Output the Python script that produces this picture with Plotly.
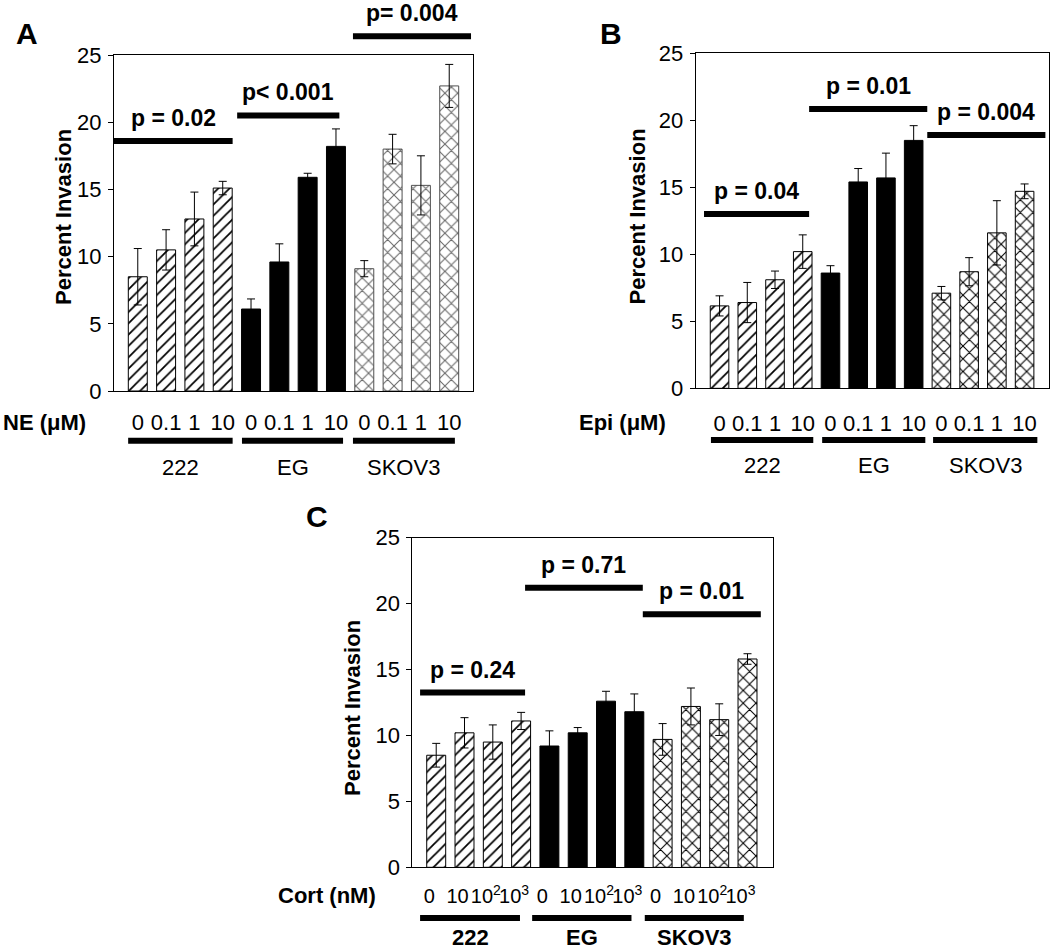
import plotly.graph_objects as go

W, H = 1050, 952
FONT = "Liberation Sans, Arial, sans-serif"

# ---------------- data ----------------
groups = ["222", "EG", "SKOV3"]

A_ticks = ["0", "0.1", "1", "10"]
A_222 = [8.5, 10.5, 12.8, 15.1]
A_222_err = [2.1, 1.5, 2.0, 0.5]
A_EG = [6.1, 9.6, 15.9, 18.2]
A_EG_err = [0.75, 1.35, 0.3, 1.3]
A_SKOV3 = [9.1, 18.0, 15.3, 22.7]
A_SKOV3_err = [0.6, 1.1, 2.2, 1.6]
A_pvals = ["p = 0.02", "p< 0.001", "p= 0.004"]

B_ticks = ["0", "0.1", "1", "10"]
B_222 = [6.15, 6.4, 8.1, 10.2]
B_222_err = [0.75, 1.5, 0.65, 1.25]
B_EG = [8.6, 15.4, 15.7, 18.5]
B_EG_err = [0.55, 1.0, 1.85, 1.1]
B_SKOV3 = [7.1, 8.7, 11.6, 14.7]
B_SKOV3_err = [0.5, 1.05, 2.4, 0.55]
B_pvals = ["p = 0.04", "p = 0.01", "p = 0.004"]

C_ticks = ["0", "10", "10<sup>2</sup>", "10<sup>3</sup>"]
C_222 = [8.5, 10.2, 9.5, 11.1]
C_222_err = [0.9, 1.15, 1.3, 0.65]
C_EG = [9.2, 10.2, 12.6, 11.8]
C_EG_err = [1.15, 0.4, 0.75, 1.35]
C_SKOV3 = [9.7, 12.2, 11.2, 15.8]
C_SKOV3_err = [1.2, 1.4, 1.2, 0.4]
C_pvals = ["p = 0.24", "p = 0.71", "p = 0.01"]

y_ticks = [0, 5, 10, 15, 20, 25]

# ---------------- layout geometry ----------------
panels = [
    dict(letter="A", xa="x", ya="y", row_label="NE (\u03bcM)",
         ticks=A_ticks, vals=[A_222, A_EG, A_SKOV3], errs=[A_222_err, A_EG_err, A_SKOV3_err],
         pvals=A_pvals, pspan=[(-0.84, 3.35, 18.6), (3.51, 7.12, 20.5), (7.6, 11.77, 26.4)],
         gspan=[(-0.34, 3.35), (3.68, 7.25), (7.6, 11.2)],
         px=(114, 473), py=(55, 391), xr=[-0.84, 11.84],
         tick_stand=12, tick_size=22, tick_shift=0, gline_off=49.7, glabel_off=76, glabel_bold=False,
         row_xy=(88, 422), title_xy=(64, 217), letter_xy=(27, 34), skov_grey=True),
    dict(letter="B", xa="x2", ya="y2", row_label="Epi (\u03bcM)",
         ticks=B_ticks, vals=[B_222, B_EG, B_SKOV3], errs=[B_222_err, B_EG_err, B_SKOV3_err],
         pvals=B_pvals, pspan=[(-0.56, 3.23, 13.0), (3.23, 7.49, 20.85), (7.49, 11.75, 18.9)],
         gspan=[(-0.31, 3.38), (3.7, 7.42), (7.7, 11.46)],
         px=(695.7, 1049), py=(53.3, 388.3), xr=[-0.86, 11.88],
         tick_stand=15, tick_size=22, tick_shift=0, gline_off=51.7, glabel_off=77, glabel_bold=False,
         row_xy=(668, 422), title_xy=(637.5, 217), letter_xy=(611, 34), skov_grey=False),
    dict(letter="C", xa="x3", ya="y3", row_label="Cort (nM)",
         ticks=C_ticks, vals=[C_222, C_EG, C_SKOV3], errs=[C_222_err, C_EG_err, C_SKOV3_err],
         pvals=C_pvals, pspan=[(-0.57, 3.14, 13.25), (3.14, 7.3, 21.2), (7.3, 11.47, 19.2)],
         gspan=[(-0.57, 2.96), (3.39, 6.9), (7.37, 10.87)],
         px=(412.3, 772.7), py=(537.7, 867.3), xr=[-0.845, 11.89],
         tick_stand=11, tick_size=20, tick_shift=-7, gline_off=50.7, glabel_off=None, glabel_bold=True,
         row_xy=(378, 895), title_xy=(352, 708), letter_xy=(317, 516), skov_grey=False),
]

fig = go.Figure()
shapes = []
annots = []


def pxx(x):
    return x / W


def pxy(y):
    return 1 - y / H


for p in panels:
    dom_x = [pxx(p["px"][0]), pxx(p["px"][1])]
    dom_y = [pxy(p["py"][1]), pxy(p["py"][0])]
    hdom = dom_y[1] - dom_y[0]

    def yval(v, dom_y=dom_y, hdom=hdom):
        return dom_y[0] + v / 25.0 * hdom

    # bars
    for g in range(3):
        xs = [4 * g + i for i in range(4)]
        if g == 0:
            mk = dict(color="white", line=dict(color="black", width=1),
                      pattern=dict(shape="/", fgcolor="black", bgcolor="white", size=8, solidity=0.22))
        elif g == 1:
            mk = dict(color="black", line=dict(color="black", width=1))
        else:
            fg = "#6a6a6a" if p["skov_grey"] else "black"
            ln = "#505050" if p["skov_grey"] else "black"
            mk = dict(color="white", line=dict(color=ln, width=1),
                      pattern=dict(shape="x", fgcolor=fg, bgcolor="white", size=9, solidity=0.22))
        fig.add_trace(go.Bar(
            x=xs, y=p["vals"][g], width=0.67, marker=mk,
            error_y=dict(type="data", array=p["errs"][g], symmetric=True,
                         color="black", thickness=1, width=4),
            xaxis=p["xa"], yaxis=p["ya"], showlegend=False, hoverinfo="skip"))

    axn = p["xa"].replace("x", "xaxis")
    ayn = p["ya"].replace("y", "yaxis")
    fig.update_layout(**{
        axn: dict(domain=dom_x, range=p["xr"], anchor=p["ya"], automargin=False,
                  tickvals=list(range(12)), ticktext=p["ticks"] * 3, tickangle=0,
                  ticks="", showline=True, mirror=True, linecolor="black", linewidth=1,
                  showgrid=False, zeroline=False, ticklabelstandoff=p["tick_stand"],
                  ticklabelshift=p["tick_shift"],
                  tickfont=dict(family=FONT, size=p["tick_size"], color="black"), fixedrange=True),
        ayn: dict(domain=dom_y, range=[0, 25], anchor=p["xa"], automargin=False,
                  tickvals=y_ticks, ticks="outside", ticklen=5, tickcolor="black",
                  showline=True, mirror=True, linecolor="black", linewidth=1,
                  showgrid=False, zeroline=False, ticklabelstandoff=2,
                  tickfont=dict(family=FONT, size=22, color="black"), fixedrange=True),
    })

    # significance bars + labels
    for txt, (x0, x1, yv) in zip(p["pvals"], p["pspan"]):
        shapes.append(dict(type="line", xref=p["xa"], yref="paper", x0=x0, x1=x1,
                           y0=yval(yv), y1=yval(yv), line=dict(color="black", width=6)))
        annots.append(dict(text="<b>%s</b>" % txt, xref=p["xa"], yref="paper",
                           x=(x0 + x1) / 2, y=yval(yv), yshift=23, showarrow=False,
                           xanchor="center", yanchor="middle",
                           font=dict(family=FONT, size=23, color="black")))

    # group underlines + labels
    for name, (x0, x1) in zip(groups, p["gspan"]):
        yl = dom_y[0] - p["gline_off"] / H
        shapes.append(dict(type="line", xref=p["xa"], yref="paper", x0=x0, x1=x1,
                           y0=yl, y1=yl, line=dict(color="black", width=6)))
        t = "<b>%s</b>" % name if p["glabel_bold"] else name
        if p["glabel_off"] is None:
            ga = dict(y=0.0, yanchor="bottom")
        else:
            ga = dict(y=dom_y[0] - p["glabel_off"] / H, yanchor="middle")
        annots.append(dict(text=t, xref=p["xa"], yref="paper", x=(x0 + x1) / 2,
                           showarrow=False, xanchor="center",
                           font=dict(family=FONT, size=22, color="black"), **ga))

    # row label
    annots.append(dict(text="<b>%s</b>" % p["row_label"], xref="paper", yref="paper",
                       x=pxx(p["row_xy"][0]), y=pxy(p["row_xy"][1]), showarrow=False,
                       xanchor="right", yanchor="middle",
                       font=dict(family=FONT, size=22, color="black")))
    # y title
    annots.append(dict(text="<b>Percent Invasion</b>", xref="paper", yref="paper",
                       x=pxx(p["title_xy"][0]), y=pxy(p["title_xy"][1]), showarrow=False,
                       textangle=-90, xanchor="center", yanchor="middle",
                       font=dict(family=FONT, size=22, color="black")))
    # panel letter
    annots.append(dict(text="<b>%s</b>" % p["letter"], xref="paper", yref="paper",
                       x=pxx(p["letter_xy"][0]), y=pxy(p["letter_xy"][1]), showarrow=False,
                       xanchor="center", yanchor="middle",
                       font=dict(family=FONT, size=30, color="black")))

fig.update_layout(
    template="none",
    width=W, height=H, margin=dict(l=0, r=0, t=0, b=0, pad=0, autoexpand=False),
    paper_bgcolor="white", plot_bgcolor="white",
    showlegend=False, bargap=0.33,
    shapes=shapes, annotations=annots,
    font=dict(family=FONT, color="black"),
)

fig.write_html("out.html", config={"displayModeBar": False},
               post_script="document.body.style.margin='0';document.body.style.padding='0';")
